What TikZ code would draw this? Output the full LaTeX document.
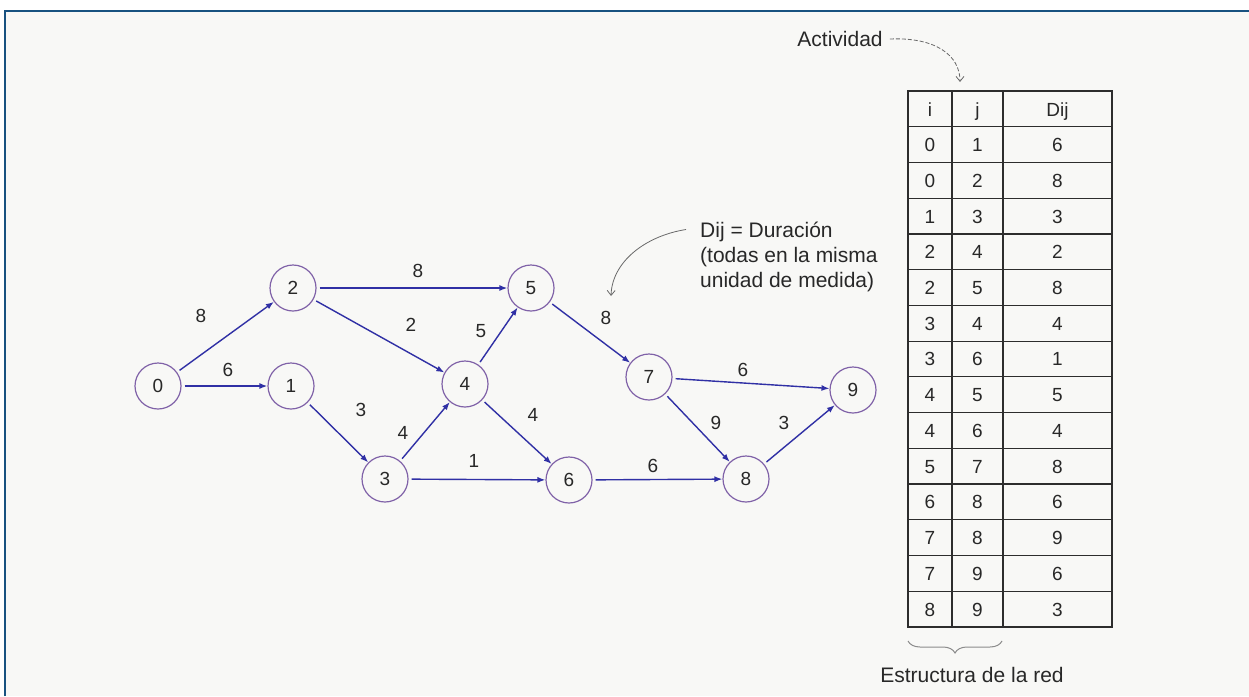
\documentclass[tikz,border=0pt]{standalone}
\usepackage{fontspec}
\setmainfont{Liberation Sans}
\usetikzlibrary{arrows.meta,decorations.pathreplacing}

\definecolor{framebl}{RGB}{24,82,128}
\definecolor{paper}{RGB}{248,248,246}
\definecolor{circ}{RGB}{128,98,168}
\definecolor{edgeblue}{RGB}{48,48,165}
\definecolor{ink}{RGB}{40,40,40}
\definecolor{ptr}{RGB}{105,105,105}
\definecolor{gridc}{RGB}{45,45,45}
\definecolor{bracec}{RGB}{140,140,140}

\begin{document}
\begin{tikzpicture}[x=1pt,y=-1pt,
  ev/.style={circle,draw=circ,line width=1.2pt,minimum size=46pt,inner sep=0pt,
    text=ink,font=\fontsize{19}{22}\selectfont},
  act/.style={draw=edgeblue,line width=1.4pt,-{Latex[length=8pt,width=6pt]},shorten <=3pt},
  dur/.style={text=ink,font=\fontsize{19}{22}\selectfont},
  note/.style={text=ink,font=\fontsize{21}{25}\selectfont,inner sep=0pt},
  cell/.style={text=ink,font=\fontsize{19}{22}\selectfont,anchor=base,inner sep=0pt},
  pointer/.style={draw=ptr,line width=0.8pt,-{Straight Barb[length=5pt,width=8pt]}},
  gridline/.style={draw=gridc,line width=1.2pt},
]
\useasboundingbox (0,0) rectangle (1249,696);
\fill[white] (0,0) rectangle (1249,696);
\fill[paper] (5,11) rectangle (1249,696);
\draw[framebl,line width=2.5pt] (5,696) -- (5,11) -- (1249,11);

% events of the network
\node[ev] (n0) at (158,386) {0};
\node[ev] (n1) at (291,386) {1};
\node[ev] (n2) at (293,288) {2};
\node[ev] (n3) at (385,479) {3};
\node[ev] (n4) at (465,384) {4};
\node[ev] (n5) at (531,288) {5};
\node[ev] (n6) at (569,480) {6};
\node[ev] (n7) at (649,377) {7};
\node[ev] (n8) at (746,479) {8};
\node[ev] (n9) at (853,390) {9};

% activities
\draw[act] (n0) -- (n2);
\draw[act] (n0) -- (n1);
\draw[act] (n2) -- (n5);
\draw[act] (n2) -- (n4);
\draw[act] (n1) -- (n3);
\draw[act] (n3) -- (n4);
\draw[act] (n3) -- (n6);
\draw[act] (n4) -- (n5);
\draw[act] (n4) -- (n6);
\draw[act] (n5) -- (n7);
\draw[act] (n7) -- (n9);
\draw[act] (n7) -- (n8);
\draw[act] (n6) -- (n8);
\draw[act] (n8) -- (n9);

% durations
\node[dur] (d02) at (201,316) {8};
\node[dur] (d01) at (228,370) {6};
\node[dur] (d25) at (418,271) {8};
\node[dur] (d24) at (411,325) {2};
\node[dur] (d45) at (481,331) {5};
\node[dur] (d13) at (361,410) {3};
\node[dur] (d34) at (403,433) {4};
\node[dur] (d36) at (474,461) {1};
\node[dur] (d46) at (533,415) {4};
\node[dur] (d57) at (606,318) {8};
\node[dur] (d79) at (743,370) {6};
\node[dur] (d78) at (716,423) {9};
\node[dur] (d89) at (784,423) {3};
\node[dur] (d68) at (653,466) {6};

% annotation on durations
\node[note,align=left,anchor=north west] (durnote) at (700,221.5)
  {Dij = Duración\\(todas en la misma\\unidad de medida)};
\coordinate (durtip) at (611,296);
\draw[pointer] ([xshift=-14pt,yshift=-8pt]durnote.north west) .. controls (645,236) and (612,262) .. (durtip);

% activity table
\draw[gridline] (908,91) rectangle (1112,627);
\draw[gridline] (952,91) -- (952,627);
\draw[gridline] (1003,91) -- (1003,627);
\foreach \k in {1,...,14}
  \draw[gridline] (908,{91+35.73*\k}) -- (1112,{91+35.73*\k});

\node[cell] (hi) at (930,116) {i};
\node[cell] (hj) at (977.5,116) {j};
\node[cell] (hd) at (1057.5,116) {Dij};
\foreach \i/\j/\d [count=\n] in {0/1/6,0/2/8,1/3/3,2/4/2,2/5/8,3/4/4,3/6/1,
                                  4/5/5,4/6/4,5/7/8,6/8/6,7/8/9,7/9/6,8/9/3} {
  \node[cell] (ri\n) at (930,{91+35.73*\n+17.87+7}) {\i};
  \node[cell] (rj\n) at (977.5,{91+35.73*\n+17.87+7}) {\j};
  \node[cell] (rd\n) at (1057.5,{91+35.73*\n+17.87+7}) {\d};
}

% labels around the table
\node[note] (actlabel) at (840,39) {Actividad};
\coordinate (acttip) at (960,82);
\draw[pointer,dash pattern=on 4pt off 2pt] ([xshift=7pt]actlabel.east) .. controls (935,37) and (960,55) .. (acttip);

\coordinate (brA) at (908,641);
\coordinate (brB) at (1002,641);
\draw[draw=bracec,line width=1pt,decorate,decoration={brace,mirror,amplitude=12pt}] (brA) -- (brB);
\node[note] (estr) at (972,675) {Estructura de la red};
\end{tikzpicture}
\end{document}
